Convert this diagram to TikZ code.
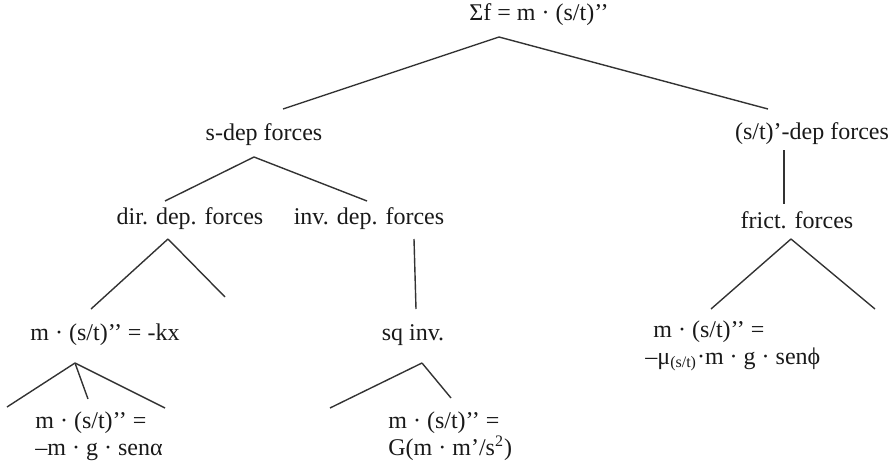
\documentclass[tikz,border=0pt]{standalone}
\usepackage{fontspec}
\setmainfont{Liberation Serif}
\usetikzlibrary{calc}

\begin{document}
\begin{tikzpicture}[x=0.5pt, y=-0.5pt, every node/.style={font=\fontsize{12}{13.5}\selectfont, text=black!90, inner sep=0pt}, term/.style={anchor=center}, eqn/.style={anchor=west, align=left}, branch/.style={draw=black!80, line width=0.7pt}]
\useasboundingbox (0,0) rectangle (896,466);
% tree labels
\node[term] (root) at (539,15) {Σf = m · (s/t)’’};
\node[term] (sdep) at (264,135) {s-dep forces};
\node[term] (vdep) at (812,134) {(s/t)’-dep forces};
\node[term] (dir) at (190,219) {dir. dep. forces};
\node[term] (inv) at (369,219) {inv. dep. forces};
\node[term] (frict) at (797,220) {frict. forces};
\node[term] (hooke) at (105,335) {m · (s/t)’’ = -kx};
\node[term] (sqinv) at (413,335) {sq inv.};
\node[eqn] (pend) at (35,436) {m · (s/t)’’ =\\–m · g · senα};
\node[eqn] (grav) at (388,436) {m · (s/t)’’ =\\G(m · m’/s\textsuperscript{2})};
\node[eqn] (fric) at (645,346) {\hspace*{4pt}m · (s/t)’’ =\\–μ\textsubscript{(s/t)}·m · g · senϕ};
% open branches
\coordinate (dirr) at (225,297);
\coordinate (hookel) at (7,407);
\coordinate (hooker) at (165,408);
\coordinate (sqinvl) at (330,408);
\coordinate (frictr) at (875,309);
% branches
\draw[branch] ($(root)+(-40,22)$) -- ($(sdep)+(19,-26)$);
\draw[branch] ($(root)+(-40,22)$) -- ($(vdep)+(-44,-25)$);
\draw[branch] ($(sdep)+(-10,22)$) -- ($(dir)+(-25,-18)$);
\draw[branch] ($(sdep)+(-10,22)$) -- ($(inv)+(-2,-18)$);
\draw[branch] ($(vdep)+(-28,16)$) -- ($(frict)+(-13,-16)$);
\draw[branch] ($(dir)+(-22,20)$) -- ($(hooke)+(-14,-26)$);
\draw[branch] ($(dir)+(-22,20)$) -- (dirr);
\draw[branch] ($(inv)+(45,20)$) -- ($(sqinv)+(3,-26)$);
\draw[branch] ($(frict)+(-6,19)$) -- ($(fric.west)+(66,-37)$);
\draw[branch] ($(frict)+(-6,19)$) -- (frictr);
\draw[branch] ($(hooke)+(-30,28)$) -- (hookel);
\draw[branch] ($(hooke)+(-30,28)$) -- ($(pend.west)+(53,-37)$);
\draw[branch] ($(hooke)+(-30,28)$) -- (hooker);
\draw[branch] ($(sqinv)+(9,28)$) -- (sqinvl);
\draw[branch] ($(sqinv)+(9,28)$) -- ($(grav.west)+(63,-38)$);
\end{tikzpicture}
\end{document}
